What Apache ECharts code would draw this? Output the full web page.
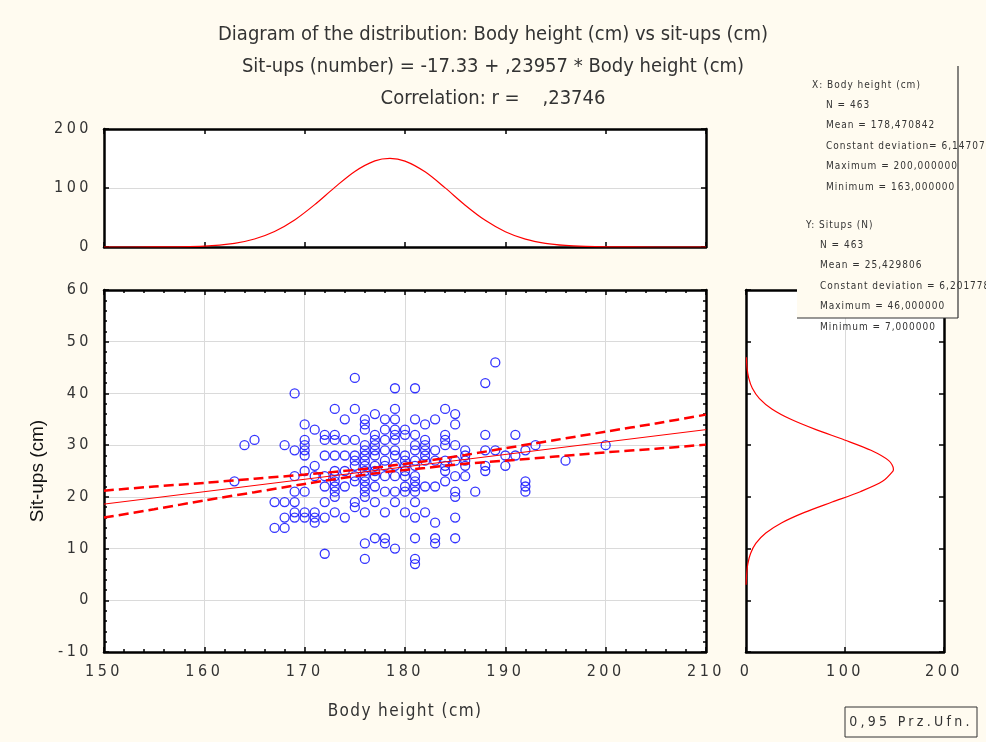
<!DOCTYPE html>
<html>
<head>
<meta charset="utf-8">
<title>Body height vs sit-ups</title>
<script src="https://cdn.jsdelivr.net/npm/echarts@6.0.0/dist/echarts.min.js"></script>
<style>
  html, body { margin: 0; padding: 0; background: #fffbf0; }
  #chart { width: 986px; height: 742px; }
</style>
</head>
<body>
<div id="chart"></div>
<script>
// height columns and the sit-ups values seen in each column
const heightCols = [163, 164, 165, 167, 168, 169, 170, 171, 172, 173, 174, 175, 176, 177, 178, 179,
  180, 181, 182, 183, 184, 185, 186, 187, 188, 189, 190, 191, 192, 193, 196, 200];
const situpsCols = [
  [23], [30], [31], [19, 14], [30, 19, 16, 14],
  [40, 29, 24, 21, 19, 17, 16],
  [34, 31, 30, 29, 28, 25, 21, 17, 16],
  [33, 26, 24, 17, 16, 15],
  [32, 31, 28, 24, 22, 19, 16, 9],
  [37, 32, 31, 28, 25, 24, 23, 22, 21, 20, 17],
  [35, 31, 28, 25, 22, 16],
  [43, 37, 31, 28, 27, 26, 24, 23, 19, 18],
  [35, 34, 33, 30, 29, 28, 27, 26, 25, 24, 23, 22, 21, 20, 17, 11, 8],
  [36, 32, 31, 30, 29, 28, 26, 25, 24, 22, 19, 12],
  [35, 33, 31, 29, 27, 26, 24, 21, 17, 12, 11],
  [41, 37, 35, 33, 32, 31, 29, 28, 26, 24, 21, 19, 10],
  [33, 32, 28, 27, 26, 25, 24, 22, 21, 17],
  [41, 35, 32, 30, 29, 27, 26, 24, 23, 22, 21, 19, 16, 12, 8, 7],
  [34, 31, 30, 29, 28, 27, 22, 17],
  [35, 29, 27, 22, 15, 12, 11],
  [37, 32, 31, 30, 27, 26, 25, 23],
  [36, 34, 30, 27, 24, 21, 20, 16, 12],
  [29, 28, 27, 26, 24], [21], [42, 32, 29, 26, 25], [46, 29], [28, 26], [32, 28],
  [29, 23, 22, 21], [30], [27], [30]
];

// regression line and 95% band
const fitX = [150, 210];
const fitY = [18.6, 33.0];
const bandX = [150, 155, 160, 165, 170, 175, 178.5, 182, 186, 190, 195, 200, 205, 210];
const bandUpper = [21.2, 22.0, 22.7, 23.5, 24.3, 25.2, 26.0, 26.9, 28.1, 29.4, 31.0, 32.6, 34.2, 35.9];
const bandLower = [16.0, 17.6, 19.3, 20.9, 22.5, 24.0, 24.9, 25.6, 26.4, 27.0, 27.8, 28.6, 29.3, 30.1];

// normal curve over body height (top panel)
const heightCurveX = [150, 155, 160, 163, 165, 167, 169, 171, 173, 175, 177, 178.5, 180, 182, 184,
  186, 188, 190, 192, 194, 196, 198, 200, 205, 210];
const heightCurveN = [0, 0.1, 1.6, 6.3, 13.6, 26.3, 45.8, 71.8, 101.1, 128.1, 146.0, 150.2, 145.6,
  127.4, 100.2, 70.9, 45.2, 25.9, 13.3, 6.2, 2.6, 1.0, 0.3, 0, 0];

// normal curve over sit-ups (right panel)
const situpCurveY = [3, 5, 7, 9, 11, 13, 15, 17, 19, 21, 23, 25, 25.4, 27, 29, 31, 33, 35, 37, 39,
  41, 43, 45, 47];
const situpCurveN = [0.1, 0.65, 1.8, 4.5, 9.9, 20.0, 36.2, 59.1, 87.0, 115.4, 137.9, 148.5, 148.9,
  144.2, 126.2, 99.5, 70.7, 45.3, 26.1, 13.6, 6.4, 2.7, 1.0, 0.4];

const titleLines = [
  'Diagram of the distribution: Body height (cm) vs sit-ups (cm)',
  'Sit-ups (number) = -17.33 + ,23957 * Body height (cm)',
  'Correlation: r =    ,23746'
];
const statsX = ['X: Body height (cm)', 'N = 463', 'Mean = 178,470842', 'Constant deviation= 6,147071',
  'Maximum = 200,000000', 'Minimum = 163,000000'];
const statsY = ['Y: Situps (N)', 'N = 463', 'Mean = 25,429806', 'Constant deviation = 6,201778',
  'Maximum = 46,000000', 'Minimum = 7,000000'];

// the original uses widely spaced letters; spacing by font size
const SPACING = { 17: 1.4, 16: 3.5, 14: 3.3, 10: 1.0 };
const ctxProto = CanvasRenderingContext2D.prototype;
['fillText', 'strokeText', 'measureText'].forEach(function (fn) {
  const orig = ctxProto[fn];
  ctxProto[fn] = function () {
    const m = /(\d+)px/.exec(this.font);
    const s = m && SPACING[m[1]];
    if ('letterSpacing' in this) this.letterSpacing = s ? s + 'px' : '0px';
    return orig.apply(this, arguments);
  };
});

const FONT = '"Liberation Sans Narrow", "DejaVu Sans Condensed", "Liberation Sans", sans-serif';
const TEXT = '#333';

const points = [];
heightCols.forEach(function (h, i) {
  situpsCols[i].forEach(function (s) { points.push([h, s]); });
});
const zip = (a, b) => a.map((v, i) => [v, b[i]]);

function frameAxis(extra) {
  return Object.assign({
    type: 'value',
    axisLine: { show: true, onZero: false, lineStyle: { color: '#000', width: 2.5 } },
    axisTick: { show: true, inside: true, length: 5, lineStyle: { color: '#000', width: 1.5 } },
    axisLabel: { show: false },
    splitLine: { show: false }
  }, extra);
}
const label = { show: true, color: TEXT, fontSize: 16, fontFamily: FONT, margin: 12 };
const minor = { show: true, splitNumber: 5, length: 3, lineStyle: { color: '#000', width: 1.5 } };
const grid = { show: true, backgroundColor: '#fff', borderWidth: 0 };

const chart = echarts.init(document.getElementById('chart'));

const graphics = [];
[statsX, statsY].forEach(function (lines, b) {
  lines.forEach(function (t, i) {
    graphics.push({
      type: 'text', z: 101,
      x: (i === 0 ? 812 : 826) - b * 6,
      y: (b === 0 ? 85 : 225) + i * 20.4,
      style: { text: t, fill: TEXT, font: '10px ' + FONT, verticalAlign: 'middle' }
    });
  });
});

const option = {
  backgroundColor: '#fffbf0',
  animation: false,
  title: titleLines.map(function (t, i) {
    return {
      text: t, left: 'center', top: 25 + i * 32, padding: 0,
      textStyle: { fontSize: 20, fontWeight: 'normal', color: TEXT, fontFamily: FONT }
    };
  }),
  grid: [
    Object.assign({ left: 104, top: 290, width: 602, height: 362 }, grid),
    Object.assign({ left: 104, top: 129, width: 602, height: 118 }, grid),
    Object.assign({ left: 746, top: 290, width: 198, height: 362 }, grid)
  ],
  xAxis: [
    frameAxis({
      gridIndex: 0, position: 'bottom', min: 150, max: 210, interval: 10,
      minorTick: minor, axisLabel: Object.assign({}, label, { margin: 10 }),
      splitLine: { show: true, lineStyle: { color: '#dadada', width: 1 } },
      name: 'Body height (cm)', nameLocation: 'middle', nameGap: 50,
      nameTextStyle: { fontSize: 17, color: TEXT, fontFamily: FONT }
    }),
    frameAxis({ gridIndex: 0, position: 'top', min: 150, max: 210, interval: 10, minorTick: minor }),
    frameAxis({ gridIndex: 1, position: 'bottom', min: 150, max: 210, interval: 10 }),
    frameAxis({ gridIndex: 1, position: 'top', min: 150, max: 210, interval: 10 }),
    frameAxis({
      gridIndex: 2, position: 'bottom', min: 0, max: 200, interval: 100,
      axisLabel: Object.assign({}, label, { margin: 10 }),
      splitLine: { show: true, lineStyle: { color: '#dadada', width: 1 } }
    }),
    frameAxis({ gridIndex: 2, position: 'top', min: 0, max: 200, interval: 100 })
  ],
  yAxis: [
    frameAxis({
      gridIndex: 0, position: 'left', min: -10, max: 60, interval: 10,
      minorTick: minor, axisLabel: label,
      splitLine: { show: true, lineStyle: { color: '#dadada', width: 1 } },
      name: 'Sit-ups (cm)', nameLocation: 'middle', nameGap: 57,
      nameTextStyle: { fontSize: 19, color: '#111', fontFamily: '"Liberation Sans", Arial, sans-serif' }
    }),
    frameAxis({ gridIndex: 0, position: 'right', min: -10, max: 60, interval: 10, minorTick: minor }),
    frameAxis({
      gridIndex: 1, position: 'left', min: 0, max: 200, interval: 100, axisLabel: label,
      splitLine: { show: true, lineStyle: { color: '#dadada', width: 1 } }
    }),
    frameAxis({ gridIndex: 1, position: 'right', min: 0, max: 200, interval: 100 }),
    frameAxis({ gridIndex: 2, position: 'left', min: -10, max: 60, interval: 10 }),
    frameAxis({ gridIndex: 2, position: 'right', min: -10, max: 60, interval: 10 })
  ],
  series: [
    {
      type: 'scatter', xAxisIndex: 0, yAxisIndex: 0, data: points, z: 2,
      symbol: 'circle', symbolSize: 9,
      itemStyle: { color: 'rgba(0,0,0,0)', borderColor: '#0000ff', borderWidth: 1.3 }
    },
    {
      type: 'line', xAxisIndex: 0, yAxisIndex: 0, data: zip(fitX, fitY), z: 3,
      symbol: 'none', lineStyle: { color: '#ff0000', width: 1 }
    },
    {
      type: 'line', xAxisIndex: 0, yAxisIndex: 0, data: zip(bandX, bandUpper), z: 3,
      symbol: 'none', smooth: 0.3, lineStyle: { color: '#ff0000', width: 2.5, type: [10, 5] }
    },
    {
      type: 'line', xAxisIndex: 0, yAxisIndex: 0, data: zip(bandX, bandLower), z: 3,
      symbol: 'none', smooth: 0.3, lineStyle: { color: '#ff0000', width: 2.5, type: [10, 5] }
    },
    {
      type: 'line', xAxisIndex: 2, yAxisIndex: 2, data: zip(heightCurveX, heightCurveN),
      symbol: 'none', smooth: 0.3, lineStyle: { color: '#ff0000', width: 1.2 }
    },
    {
      type: 'line', xAxisIndex: 4, yAxisIndex: 4, data: zip(situpCurveN, situpCurveY),
      symbol: 'none', smooth: 0.3, lineStyle: { color: '#ff0000', width: 1.2 }
    }
  ],
  graphic: [
    { type: 'rect', z: 100, shape: { x: 797, y: 66, width: 161, height: 252 }, style: { fill: '#fffbf0' } },
    { type: 'line', z: 102, shape: { x1: 958, y1: 66, x2: 958, y2: 318 }, style: { stroke: '#333', lineWidth: 1.2 } },
    { type: 'line', z: 102, shape: { x1: 797, y1: 318, x2: 958, y2: 318 }, style: { stroke: '#333', lineWidth: 1.2 } },
    { type: 'rect', z: 100, shape: { x: 845, y: 707, width: 132, height: 30 }, style: { fill: 'none', stroke: '#333', lineWidth: 1 } },
    {
      type: 'text', z: 101, x: 911, y: 722,
      style: { text: '0,95 Prz.Ufn.', fill: TEXT, font: '14px ' + FONT, align: 'center', verticalAlign: 'middle' }
    }
  ].concat(graphics)
};

chart.setOption(option);
</script>
</body>
</html>
